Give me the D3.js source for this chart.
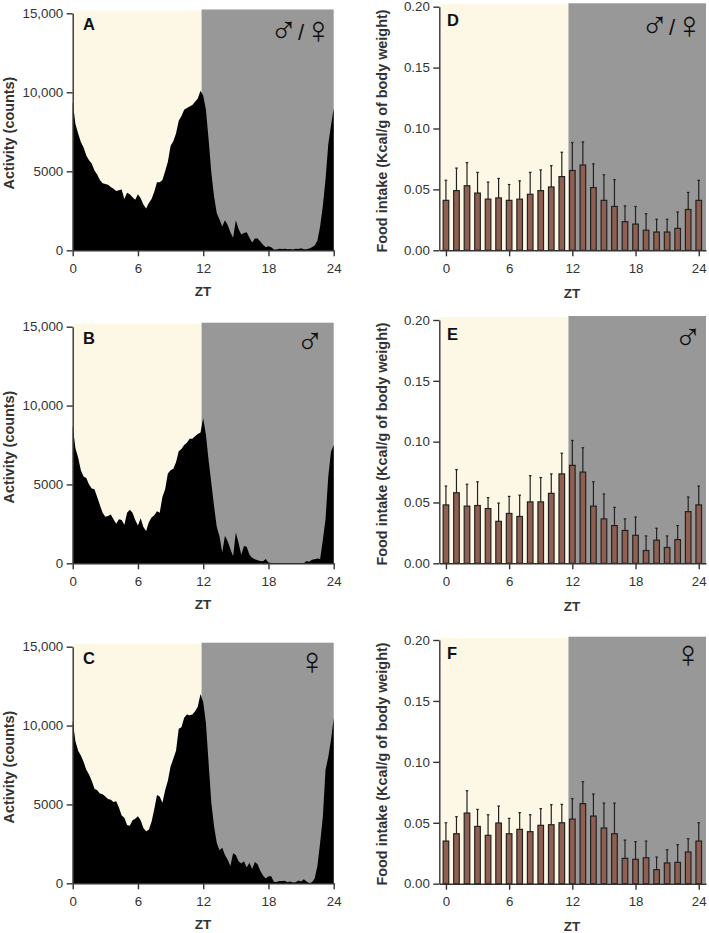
<!DOCTYPE html>
<html>
<head>
<meta charset="utf-8">
<script src="https://cdn.jsdelivr.net/npm/d3@7"></script>
<style>
html,body{margin:0;padding:0;background:#fff;}
svg{display:block;}
text{font-family:"Liberation Sans",Arial,sans-serif;}
</style>
</head>
<body>
<div id="chart"></div>
<script>
/* activity: one reading every quarter of a ZT hour, 0 to 24 */
const activityA = [9400,8000,7400,6850,6500,6000,5700,5500,5050,4800,4450,4250,4200,4150,4000,3900,3750,3800,3850,3250,3650,3550,3350,3200,3550,3300,2900,2650,3000,3250,3700,4300,4300,4450,5000,5600,6600,6900,7400,8200,8500,8900,9000,9100,9200,9400,9600,10100,9800,8900,7000,4900,3400,2340,1950,1500,1900,1600,1150,800,1900,1350,1000,1100,1150,800,500,750,750,550,350,200,250,200,50,50,100,90,100,60,90,50,100,80,130,70,60,120,200,300,600,1500,2800,4500,6700,7900,9000];
const activityB = [8700,7300,6700,5900,5500,5400,5000,4750,4700,4200,3700,3200,2950,3000,3100,2800,2500,2800,2750,2450,3200,3400,3200,2750,2400,2850,2300,2050,2600,2900,3050,3300,3200,4200,4700,5700,5900,6000,6400,7100,7250,7500,7650,7900,7900,8050,8200,8300,9200,8150,6500,5070,3600,2300,1700,700,1750,1400,900,450,1950,1300,550,1100,1050,550,350,250,200,150,130,280,50,20,10,10,10,10,10,10,10,10,10,10,10,10,150,100,220,250,300,280,1480,2800,5500,7080,7500];
const activityC = [10300,9000,8400,8100,7700,7200,6900,6500,6000,5900,5700,5650,5500,5350,5300,5150,5200,4800,4300,4150,3700,3650,4000,4100,4250,4000,3500,3300,3400,3900,4700,5600,5500,5100,5900,6500,7400,7900,8400,9800,9900,10500,10700,10650,10700,10900,11200,12000,11500,10160,7600,5070,3600,2550,2100,2250,1800,1500,1100,1900,1800,1400,1250,1400,1000,1300,900,1350,1200,800,500,300,450,450,100,80,150,150,160,60,120,50,60,170,120,260,120,20,70,300,1100,2550,4200,7200,8000,9100,10500];

/* food intake: bar top and error bar top for ZT 0 to 24 */
const foodD = [0.041,0.049,0.053,0.047,0.042,0.043,0.041,0.042,0.046,0.049,0.052,0.0605,0.0655,0.07,0.0515,0.041,0.036,0.0235,0.0215,0.0165,0.015,0.015,0.018,0.0335,0.041];
const errD = [0.0575,0.0675,0.072,0.064,0.056,0.059,0.054,0.057,0.064,0.066,0.0695,0.0805,0.0885,0.089,0.071,0.062,0.058,0.0365,0.036,0.03,0.0255,0.0255,0.0315,0.0475,0.0575];
const foodE = [0.048,0.058,0.047,0.0475,0.045,0.0345,0.041,0.0385,0.0505,0.0505,0.0575,0.0735,0.0805,0.075,0.047,0.0365,0.031,0.027,0.023,0.0105,0.019,0.013,0.0195,0.0425,0.048];
const errE = [0.0635,0.077,0.065,0.067,0.054,0.0495,0.055,0.056,0.072,0.0705,0.0735,0.0905,0.101,0.095,0.067,0.057,0.046,0.0365,0.038,0.0225,0.0288,0.0225,0.031,0.0545,0.0635];
const foodF = [0.035,0.041,0.058,0.047,0.0397,0.0498,0.041,0.0446,0.0427,0.0479,0.0484,0.05,0.053,0.0657,0.0555,0.0457,0.041,0.0208,0.02,0.0213,0.0115,0.017,0.0175,0.026,0.035];
const errF = [0.05,0.055,0.0763,0.061,0.0566,0.0637,0.0536,0.0583,0.0566,0.0616,0.0648,0.0651,0.0698,0.0837,0.0736,0.0662,0.0662,0.0358,0.0345,0.035,0.0219,0.0279,0.032,0.0369,0.05];

const ztTicks = [0,6,12,18,24];
const activityTicks = [0,5000,10000,15000];
const foodTicks = [0,0.05,0.10,0.15,0.20];

const W = 709, H = 933;
const TXT = "#333", AX = "#333";
const CREAM = "#fdf8e6", GREY = "#989898", BAR = "#8f5f52";

const svg = d3.select("#chart").append("svg").attr("width", W).attr("height", H);

function baseAxes(x, y, yTickFmt, yTicks){

  const gx = svg.append("g")
    .attr("transform", "translate(0," + y.range()[0] + ")")
    .call(d3.axisBottom(x).tickValues(ztTicks).tickSize(6).tickPadding(7).tickSizeOuter(0));

  const gy = svg.append("g")
    .attr("transform", "translate(" + x.range()[0] + ",0)")
    .call(d3.axisLeft(y).tickValues(yTicks).tickFormat(yTickFmt).tickSize(6).tickPadding(3.5).tickSizeOuter(0));

  [gx, gy].forEach(g => {
    g.selectAll("path,line").attr("stroke", AX).attr("stroke-width", 1.4);
    g.selectAll("text").attr("fill", TXT).attr("font-size", 13.3);
    g.attr("font-family", null);
  });

}

function labels(p){

  svg.append("text")
    .attr("transform", "translate(" + p.ylabX + "," + p.ylabY + ") rotate(-90)")
    .attr("text-anchor", "middle")
    .attr("font-weight", "bold")
    .attr("font-size", p.ylabSize)
    .attr("fill", TXT)
    .text(p.ylab);

  svg.append("text")
    .attr("x", p.ztX).attr("y", p.ztY)
    .attr("text-anchor", "middle")
    .attr("font-weight", "bold")
    .attr("font-size", 13.5)
    .attr("fill", TXT)
    .text("ZT");

  svg.append("text")
    .attr("x", p.letterX).attr("y", p.letterY)
    .attr("font-weight", "bold")
    .attr("font-size", 16.5)
    .attr("fill", "#111")
    .text(p.letter);

  /* the slash between the two signs stays at normal size */
  const sym = svg.append("text")
    .attr("x", p.symX).attr("y", p.symY)
    .attr("text-anchor", "middle")
    .attr("font-size", 38)
    .attr("fill", "#111");

  p.sym.split("/").forEach((s, i) => {
    if(i > 0){
      sym.append("tspan").attr("font-size", 22).attr("dy", -3).text("/");
    }
    const t = sym.append("tspan").text(s);
    if(i > 0) t.attr("dy", 3);
  });

}

function shade(x, y, top, split){

  svg.append("rect")
    .attr("x", x.range()[0]).attr("y", top + 1)
    .attr("width", x(split) - x.range()[0])
    .attr("height", y.range()[0] - top - 1)
    .attr("fill", CREAM);

  svg.append("rect")
    .attr("x", x(split)).attr("y", top)
    .attr("width", x.range()[1] - x(split))
    .attr("height", y.range()[0] - top)
    .attr("fill", GREY);

}

function activityPanel(p){

  const x = d3.scaleLinear().domain([0,24]).range([72.7,333.7]);
  const y = d3.scaleLinear().domain([0,15000]).range([p.y0,p.y1]);

  shade(x, y, p.top, 11.85);

  const area = d3.area()
    .x((d,i) => x(i*0.25))
    .y0(y(0))
    .y1(d => y(d));

  svg.append("path")
    .datum(p.values)
    .attr("d", area)
    .attr("fill", "#000");

  baseAxes(x, y, d => d >= 10000 ? d3.format(",")(d) : String(d), activityTicks);

  labels(Object.assign({ylab:"Activity (counts)", ylabX:13.5, ylabSize:14.4, ztX:203}, p));

}

function foodPanel(p){

  const x = d3.scaleLinear().domain([-0.63,24.69]).range([439.3,706]);
  const y = d3.scaleLinear().domain([0,0.20]).range([p.y0,p.y1]);

  shade(x, y, p.top, 11.63);

  const g = svg.append("g");

  g.selectAll("line.err")
    .data(p.errs)
    .enter()
    .append("line")
    .attr("x1", (d,i) => x(i)).attr("x2", (d,i) => x(i))
    .attr("y1", (d,i) => y(p.values[i]))
    .attr("y2", d => y(d))
    .attr("stroke", "#222").attr("stroke-width", 1.2);

  g.selectAll("line.cap")
    .data(p.errs)
    .enter()
    .append("line")
    .attr("x1", (d,i) => x(i)-1.3).attr("x2", (d,i) => x(i)+1.3)
    .attr("y1", d => y(d)).attr("y2", d => y(d))
    .attr("stroke", "#222").attr("stroke-width", 1.2);

  g.selectAll("rect")
    .data(p.values)
    .enter()
    .append("rect")
    .attr("x", (d,i) => x(i)-2.8)
    .attr("width", 5.6)
    .attr("y", d => y(d))
    .attr("height", d => y(0)-y(d))
    .attr("fill", BAR)
    .attr("stroke", "#222")
    .attr("stroke-width", 1.2);

  baseAxes(x, y, d3.format(".2f"), foodTicks);

  labels(Object.assign({ylab:"Food intake (Kcal/g of body weight)", ylabX:387, ylabSize:14.4, ztX:572}, p));

}

activityPanel({values:activityA, y0:250.3, y1:13.3, top:9.5, letter:"A", letterX:83, letterY:30, ztY:296, ylabY:133, sym:"\u2642/\u2640", symX:301, symY:42.5});
activityPanel({values:activityB, y0:563.3, y1:326.7, top:322.7, letter:"B", letterX:83, letterY:344, ztY:609, ylabY:447, sym:"\u2642", symX:310, symY:353.5});
activityPanel({values:activityC, y0:883.3, y1:646.7, top:642.7, letter:"C", letterX:83, letterY:664, ztY:929, ylabY:767, sym:"\u2640", symX:312, symY:674});

foodPanel({values:foodD, errs:errD, y0:250.3, y1:6.7, top:3.3, letter:"D", letterX:447, letterY:26, ztY:298, ylabY:131, sym:"\u2642/\u2640", symX:672, symY:37.5});
foodPanel({values:foodE, errs:errE, y0:563.3, y1:320, top:316, letter:"E", letterX:447, letterY:340, ztY:611, ylabY:444, sym:"\u2642", symX:688, symY:350});
foodPanel({values:foodF, errs:errF, y0:883.7, y1:640, top:636.7, letter:"F", letterX:447, letterY:659, ztY:931, ylabY:764, sym:"\u2640", symX:688, symY:667});
</script>
</body>
</html>
